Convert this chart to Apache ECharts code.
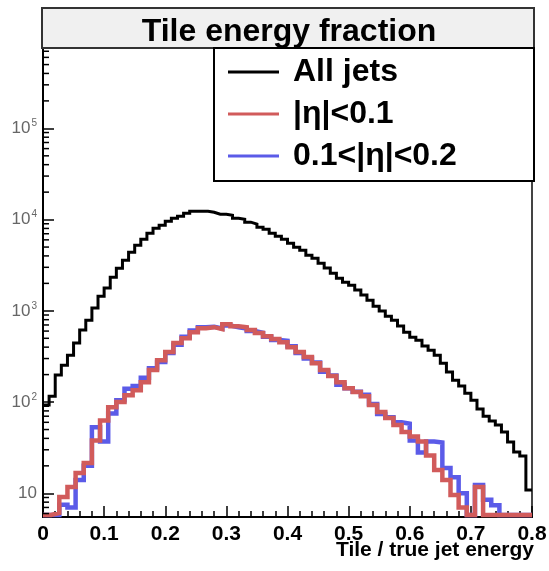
<!DOCTYPE html>
<html>
<head>
<meta charset="utf-8">
<script src="https://cdn.jsdelivr.net/npm/echarts@6/dist/echarts.min.js"></script>
<style>
html,body{margin:0;padding:0;background:#fff;}
#chart{width:549px;height:571px;}
</style>
</head>
<body>
<div id="chart"></div>
<script>
// ---- data ----
const xMin = 0, xMax = 0.8;
const yMin = 5.5, yMax = 7.6e5;
const titleText = 'Tile energy fraction';
const xAxisTitle = 'Tile / true jet energy';
const seriesNames = ['All jets', '|η|<0.1', '0.1<|η|<0.2'];

// All jets: 80 bins over [0, 0.8]
const allJets = [93, 116, 198, 254, 327, 443, 615, 791, 1071, 1449,
  1774, 2339, 2937, 3593, 4395, 5245, 6100, 7100, 8050, 8690,
  9600, 10350, 10900, 11750, 12360, 12360, 12360, 12050, 11460, 11460,
  11170, 10350, 10090, 9370, 8910, 8260, 7850, 7100, 6580, 6100,
  5520, 4990, 4620, 4070, 3780, 3330, 2940, 2590, 2280, 2060,
  1910, 1690, 1490, 1310, 1126, 993, 875, 791, 680, 584,
  515, 477, 411, 371, 327, 267, 213, 174, 150, 125,
  105, 84, 70, 62, 56, 47, 36.5, 28.3, 25.6, 10.9];

// |eta|<0.1: 60 bins over [0, 0.8]
const eta01 = [5.8, 6.1, 9.1, 11.7, 16.7, 21.5, 38, 63, 88, 100,
  119, 135, 165, 224, 288, 353, 443, 502, 583, 646,
  662, 630, 715, 679, 662, 615, 570, 528, 490, 454,
  400, 353, 311, 267, 224, 193, 165, 142, 129, 116,
  93, 78, 67, 56, 47, 42, 37, 26, 18, 14,
  9.6, 7, 5.8, 11.7, 5.8, 5.8, 5.8, 5.8, 5.8, 5.8];

// 0.1<|eta|<0.2: 60 bins over [0, 0.8]
const eta0102 = [5.8, 5.8, 7.5, 7, 14, 20, 53, 37, 75, 105,
  140, 150, 185, 235, 275, 345, 425, 520, 610, 660,
  670, 640, 690, 660, 640, 600, 575, 520, 480, 470,
  410, 345, 300, 272, 215, 195, 155, 142, 130, 120,
  95, 74, 68, 60, 58, 38, 28, 37, 36, 19,
  15, 10, 5.8, 12.3, 8.5, 7.4, 5.8, 5.8, 5.8, 5.8];

// ---- helpers ----
function histPoints(vals) {
  const w = (xMax - xMin) / vals.length;
  const pts = vals.map((v, i) => [xMin + i * w, v]);
  pts.push([xMax, vals[vals.length - 1]]);
  return pts;
}
const minorTicks = [];
for (let n = 0; n <= 6; n++) {
  for (let k = 2; k <= 9; k++) {
    const v = k * Math.pow(10, n);
    if (v > yMin && v < yMax) minorTicks.push([xMin, v]);
  }
}
const FONT = '"Liberation Sans", Arial, Helvetica, sans-serif';

const chart = echarts.init(document.getElementById('chart'), null, {renderer: 'canvas'});
chart.setOption({
  animation: false,
  backgroundColor: '#fff',
  title: {
    text: titleText,
    left: 284, top: 11, textAlign: 'center', z: 10,
    textStyle: {fontFamily: FONT, fontWeight: 'bold', fontSize: 32, color: '#000'}
  },
  legend: {
    data: seriesNames,
    orient: 'vertical',
    left: 228, top: 56,
    padding: 0,
    itemGap: 10,
    itemWidth: 51, itemHeight: 3,
    icon: 'rect',
    z: 10,
    textStyle: {fontFamily: FONT, fontWeight: 'bold', fontSize: 32, color: '#000', padding: [0, 0, 0, 9]}
  },
  graphic: [
    {type: 'rect', z: 5, shape: {x: 42, y: 8, width: 492, height: 40},
     style: {fill: '#f0f0f0', stroke: '#333', lineWidth: 2}},
    {type: 'rect', z: 5, shape: {x: 214, y: 48, width: 320, height: 133},
     style: {fill: '#fff', stroke: '#000', lineWidth: 2}},
    {type: 'text', z: 10, right: 15, top: 540,
     style: {text: xAxisTitle, fill: '#000', font: 'bold 21px ' + FONT}}
  ],
  grid: {left: 43, right: 17, top: 48, bottom: 54, show: true, borderColor: '#444', borderWidth: 2,
         containLabel: false, outerBoundsMode: 'none'},
  xAxis: {
    type: 'value', min: xMin, max: xMax, interval: 0.1,
    axisLine: {show: true, onZero: false, lineStyle: {color: '#000', width: 2}},
    axisTick: {show: true, inside: true, length: 11, lineStyle: {color: '#000', width: 1.5}},
    minorTick: {show: true, splitNumber: 5, length: 6, lineStyle: {color: '#000', width: 1.5}},
    splitLine: {show: false},
    axisLabel: {fontFamily: FONT, fontWeight: 'bold', fontSize: 21, color: '#000', margin: 7,
      formatter: v => (v === 0 ? '0' : String(+v.toFixed(1)))}
  },
  yAxis: {
    type: 'log', min: yMin, max: yMax, logBase: 10,
    axisLine: {show: true, onZero: false, lineStyle: {color: '#000', width: 2}},
    axisTick: {show: true, inside: true, length: 11, lineStyle: {color: '#000', width: 1.5}},
    splitLine: {show: false},
    axisLabel: {
      showMinLabel: false, showMaxLabel: false, margin: 6,
      color: '#666', fontFamily: FONT, fontSize: 17,
      formatter: function (v) {
        const n = Math.round(Math.log10(v));
        if (n === 1) return '{b|10}';
        return '{b|10}{s|' + n + '}';
      },
      rich: {
        b: {fontFamily: FONT, fontSize: 17, color: '#666'},
        s: {fontFamily: FONT, fontSize: 10, color: '#666', verticalAlign: 'bottom', padding: [0, 0, 10, 1]}
      }
    }
  },
  series: [
    {name: seriesNames[0], type: 'line', step: 'end', data: histPoints(allJets), symbol: 'none',
     itemStyle: {color: '#000'}, lineStyle: {color: '#000', width: 3, join: 'miter'}, z: 3},
    {name: seriesNames[2], type: 'line', step: 'end', data: histPoints(eta0102), symbol: 'none',
     itemStyle: {color: '#5b5be8'}, lineStyle: {color: '#5b5be8', width: 4.5, join: 'miter'}, z: 3},
    {name: seriesNames[1], type: 'line', step: 'end', data: histPoints(eta01), symbol: 'none',
     itemStyle: {color: '#d15b5b'}, lineStyle: {color: '#d15b5b', width: 4.5, join: 'miter'}, z: 4},
    {name: 'minorTicks', type: 'custom', data: minorTicks, silent: true, z: 6,
     encode: {x: 0, y: 1},
     renderItem: function (params, api) {
       const p = api.coord([api.value(0), api.value(1)]);
       return {type: 'line', shape: {x1: p[0], y1: p[1], x2: p[0] + 6, y2: p[1]},
               style: {stroke: '#000', lineWidth: 1.5}};
     }}
  ]
});
</script>
</body>
</html>
